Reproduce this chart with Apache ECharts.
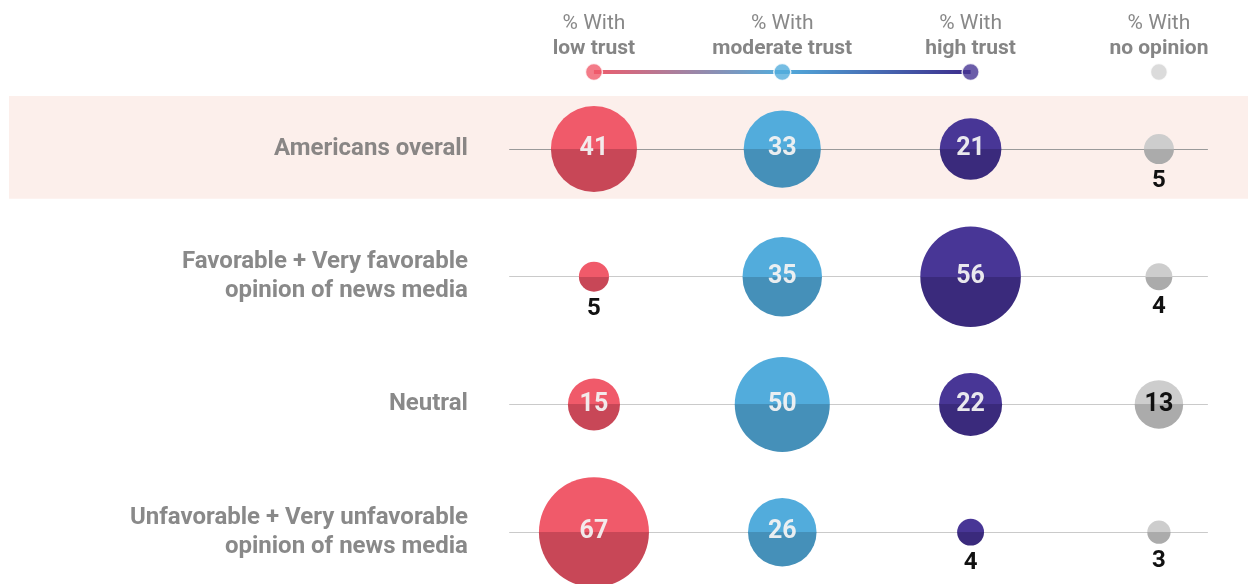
<!DOCTYPE html>
<html>
<head>
<meta charset="utf-8">
<script src="https://cdn.jsdelivr.net/npm/echarts@6/dist/echarts.min.js"></script>
<style>
  html, body { margin: 0; padding: 0; background: #fff; }
  #container { width: 1248px; height: 584px; }
</style>
</head>
<body>
<div id="container"></div>
<script>
// data
var columnNames = ['low trust', 'moderate trust', 'high trust', 'no opinion'];
var rowNames = [
    'Americans overall',
    'Favorable + Very favorable\nopinion of news media',
    'Neutral',
    'Unfavorable + Very unfavorable\nopinion of news media'
];
var lowTrust = [41, 5, 15, 67];
var moderateTrust = [33, 35, 50, 26];
var highTrust = [21, 56, 22, 4];
var noOpinion = [5, 4, 13, 3];

var columnValues = [lowTrust, moderateTrust, highTrust, noOpinion];
var topColors = ['#f05a6a', '#52acdc', '#483696', '#cdcdcd'];
var bottomColors = ['#c84757', '#4590b9', '#3a2a7c', '#ababab'];
var headerColors = ['#f05a6a', '#52acdc', '#463593', '#d2d2d2'];

var headerY = -0.603;
var fontFamily = 'Roboto, "Liberation Sans", sans-serif';

function splitColor(i) {
    return {
        type: 'linear', x: 0, y: 0, x2: 0, y2: 1,
        colorStops: [
            { offset: 0, color: topColors[i] },
            { offset: 0.5, color: topColors[i] },
            { offset: 0.5, color: bottomColors[i] },
            { offset: 1, color: bottomColors[i] }
        ]
    };
}

var chart = echarts.init(document.getElementById('container'));

var series = [];

// row names + row lines + highlighted band
series.push({
    type: 'scatter',
    symbolSize: 0,
    z: 1,
    silent: true,
    data: rowNames.map(function (name, i) { return [-0.669, i]; }),
    label: {
        show: true,
        position: 'left',
        distance: 0,
        align: 'right',
        color: '#6b6b6b',
        fontFamily: fontFamily,
        fontSize: 24,
        fontWeight: 'bold',
        lineHeight: 29,
        formatter: function (p) { return rowNames[p.dataIndex]; }
    },
    markArea: {
        silent: true,
        z: 0,
        itemStyle: { color: '#fcefeb' },
        data: [[{ coord: [-3.106, -0.415] }, { coord: [3.473, 0.39] }]]
    },
    markLine: {
        silent: true,
        z: 1,
        symbol: ['none', 'none'],
        label: { show: false },
        data: rowNames.map(function (name, i) {
            return [
                { coord: [-0.45, i], lineStyle: { color: i === 0 ? '#9a9a9a' : '#cacaca', width: 1.2, type: 'solid' } },
                { coord: [3.26, i] }
            ];
        })
    }
});

// header gradient connector
series.push({
    type: 'line',
    z: 2,
    silent: true,
    showSymbol: false,
    data: [[0, headerY], [2, headerY]],
    lineStyle: {
        width: 4,
        color: {
            type: 'linear', x: 0, y: 0, x2: 1, y2: 0,
            colorStops: [
                { offset: 0, color: '#f05a6a' },
                { offset: 0.5, color: '#52acdc' },
                { offset: 1, color: '#3c2a8a' }
            ]
        }
    }
});

// header dots + titles
series.push({
    type: 'scatter',
    z: 3,
    silent: true,
    symbolSize: 17,
    data: columnNames.map(function (name, i) {
        return {
            value: [i, headerY],
            itemStyle: { color: headerColors[i], borderColor: '#fff', borderWidth: 1.5 }
        };
    }),
    label: {
        show: true,
        position: 'top',
        distance: 2,
        align: 'center',
        formatter: function (p) {
            return '{a|% With}\n{b|' + columnNames[p.dataIndex] + '}';
        },
        rich: {
            a: { fontFamily: fontFamily, fontSize: 21, color: '#6a6a6a', lineHeight: 25, align: 'center' },
            b: { fontFamily: fontFamily, fontSize: 21, fontWeight: 'bold', color: '#666', lineHeight: 25, align: 'center' }
        }
    }
});

// bubbles
columnValues.forEach(function (values, c) {
    series.push({
        type: 'scatter',
        name: columnNames[c],
        z: 10,
        symbolSize: function (d) { return 13.44 * Math.sqrt(d[2]); },
        itemStyle: { color: splitColor(c), opacity: 1 },
        data: values.map(function (v, r) {
            var inside = v >= 10;
            return {
                value: [c, r, v],
                label: inside ? {
                    show: true,
                    position: 'inside',
                    color: c === 3 ? '#111' : 'rgba(242,242,242,0.95)',
                    fontFamily: fontFamily,
                    fontSize: 25,
                    fontWeight: 'bold'
                } : {
                    show: true,
                    position: 'bottom',
                    distance: 5,
                    color: '#111',
                    fontFamily: fontFamily,
                    fontSize: 24,
                    fontWeight: 'bold'
                }
            };
        }),
        label: {
            formatter: function (p) { return p.value[2]; }
        }
    });
});

var option = {
    animation: false,
    grid: { left: 9, right: 0, top: 0, bottom: 0 },
    xAxis: { type: 'value', min: -3.106, max: 3.473, show: false },
    yAxis: { type: 'value', min: -1.167, max: 3.406, inverse: true, show: false },
    series: series
};

chart.setOption(option);
</script>
</body>
</html>
